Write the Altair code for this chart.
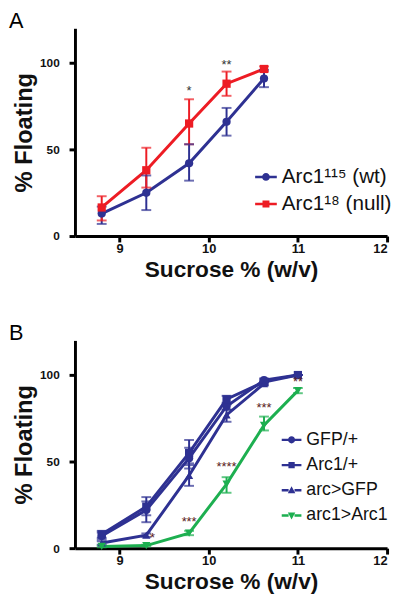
import altair as alt
import pandas as pd

# ---------------- data ----------------
X_A = [8.8, 9.3, 9.78, 10.2, 10.62]
WT = [13, 25, 42, 66, 91]
WT_LO = [7, 15, 32, 58, 86]
WT_HI = [17, 35, 53, 74, 96]
NULL = [16.5, 38, 65, 88, 96.5]
NULL_LO = [9, 28, 53, 81, 95]
NULL_HI = [23, 51, 79, 95, 98]

X_B = [8.8, 9.3, 9.78, 10.2, 10.62, 11.0]
GFP = [7, 22, 52, 82, 97, 100]
GFP_LO = [5, 15, 46, 80, 96, 100]
GFP_HI = [9, 27, 58, 84, 98, 100]
ARC1 = [8, 24, 55, 86, 96, 100]
ARC1_LO = [6, 19, 49, 83, 95, 100]
ARC1_HI = [10, 29.5, 62.5, 88, 97, 100]
X_B5 = [8.8, 9.3, 9.78, 10.2, 10.62]
ARCGFP = [3, 7.5, 42, 77, 95]
ARCGFP_LO = [2, 6.5, 36, 73, 94]
ARCGFP_HI = [4, 8.5, 48, 80, 96]
RESCUE = [1, 1.5, 8.7, 37, 71, 91]
RESCUE_LO = [0.5, 1, 7.5, 32, 68, 89.5]
RESCUE_HI = [1.5, 2, 10, 41, 76, 92.5]

ANN_A_X = [9.78, 10.2]
ANN_A_Y = [84, 99]
ANN_A_T = ["*", "**"]
ANN_B_X = [9.37, 9.78, 10.2, 10.62, 11.0]
ANN_B_Y = [6, 15, 47, 81, 96]
ANN_B_T = ["*", "***", "****", "***", "**"]

SER_A = ["Arc1¹¹⁵ (wt)", "Arc1¹⁸ (null)"]
COL_A = ["#2E3192", "#ED1C24"]
SHP_A = ["circle", "square"]
SER_B = ["GFP/+", "Arc1/+", "arc>GFP", "arc1>Arc1"]
COL_B = ["#2E3192", "#2E3192", "#2E3192", "#1DAF50"]
SHP_B = ["circle", "square", "triangle-up", "triangle-down"]

FONT = "Liberation Sans"

BAR = "M-1,-0.12H-0.3V0.12H-1Z M0.3,-0.12H1V0.12H0.3Z "
PATHS = {
    "circle": BAR + "M0.36,0A0.36,0.36 0 1,1 -0.36,0A0.36,0.36 0 1,1 0.36,0Z",
    "square": BAR + "M-0.32,-0.32H0.32V0.32H-0.32Z",
    "triangle-up": BAR + "M0,-0.4L0.38,0.3H-0.38Z",
    "triangle-down": BAR + "M0,0.4L-0.38,-0.3H0.38Z",
}


def long_df(xs_list, ys_list, lo_list, hi_list, names):
    rows = []
    for xs, ys, los, his, n in zip(xs_list, ys_list, lo_list, hi_list, names):
        for x, y, lo, hi in zip(xs, ys, los, his):
            rows.append({"x": x, "y": y, "lo": lo, "hi": hi, "series": n})
    return pd.DataFrame(rows)


def panel(df, ann, series, colors, shapes, label, ann_color, legx, legy, symsize, rowpad, legfont):
    xs = alt.Scale(domain=[8.5, 12], nice=False, zero=False)
    ys = alt.Scale(domain=[0, 120], nice=False)
    xenc = alt.X("x:Q", scale=xs, title="Sucrose % (w/v)",
                 axis=alt.Axis(values=[9, 10, 11, 12], format="d"))
    yenc = alt.Y("y:Q", scale=ys, title="% Floating",
                 axis=alt.Axis(values=[0, 50, 100], format="d"))
    cscale = alt.Scale(domain=series, range=colors)
    col = alt.Color("series:N", scale=cscale, legend=None)
    base = alt.Chart(df)

    lines = base.mark_line(strokeWidth=3).encode(x=xenc, y=yenc, color=col, detail="series:N")
    err = base.mark_rule(strokeWidth=2).encode(
        x=xenc, y=alt.Y("lo:Q", scale=ys), y2="hi:Q", color=col)
    cap_lo = base.mark_tick(orient="horizontal", size=10, thickness=2).encode(
        x=xenc, y=alt.Y("lo:Q", scale=ys), color=col)
    cap_hi = base.mark_tick(orient="horizontal", size=10, thickness=2).encode(
        x=xenc, y=alt.Y("hi:Q", scale=ys), color=col)
    pts = []
    for s, shp in zip(series, shapes):
        pts.append(
            base.transform_filter(alt.datum.series == s)
            .mark_point(filled=True, shape=shp, size=70, opacity=1)
            .encode(x=xenc, y=yenc, color=col)
        )
    leg = alt.Legend(orient="none", legendX=legx, legendY=legy, title=None,
                     labelFont=FONT, labelFontSize=legfont, labelColor="#111",
                     symbolSize=symsize, symbolStrokeWidth=0, symbolOpacity=1,
                     rowPadding=rowpad, labelOffset=5, padding=0)
    legend_layer = base.mark_point(filled=True, opacity=0).encode(
        x=xenc, y=yenc,
        color=alt.Color("series:N", scale=cscale, legend=leg),
        shape=alt.Shape("series:N", scale=alt.Scale(domain=series, range=[PATHS[s] for s in shapes]),
                        legend=leg),
    )
    txt = alt.Chart(ann).mark_text(font=FONT, fontSize=13, color=ann_color, baseline="middle").encode(
        x=alt.X("x:Q", scale=xs), y=alt.Y("y:Q", scale=ys), text="t:N")
    return alt.layer(lines, err, cap_lo, cap_hi, *pts, legend_layer, txt).resolve_legend(
        color="independent", shape="independent"
    ).properties(
        width=317, height=211,
        title=alt.TitleParams(label, anchor="start", frame="bounds", fontSize=22,
                              fontWeight="normal", font=FONT, dx=-4, offset=-5),
    )


df_a = long_df([X_A, X_A], [WT, NULL], [WT_LO, NULL_LO], [WT_HI, NULL_HI], SER_A)
df_b = long_df([X_B, X_B, X_B5, X_B], [GFP, ARC1, ARCGFP, RESCUE],
               [GFP_LO, ARC1_LO, ARCGFP_LO, RESCUE_LO], [GFP_HI, ARC1_HI, ARCGFP_HI, RESCUE_HI], SER_B)
ann_a = pd.DataFrame({"x": ANN_A_X, "y": ANN_A_Y, "t": ANN_A_T})
ann_b = pd.DataFrame({"x": ANN_B_X, "y": ANN_B_Y, "t": ANN_B_T})

pa = panel(df_a, ann_a, SER_A, COL_A, SHP_A, "A", "#333333", 183, 140, 484, 6.5, 21)
pb = panel(df_b, ann_b, SER_B, COL_B, SHP_B, "B", "#5a2020", 210, 91, 400, 6.6, 18)

chart = alt.vconcat(pa, pb, spacing=42).resolve_scale(
    color="independent", shape="independent"
).resolve_legend(color="independent", shape="independent").properties(
    padding={"left": 0, "top": -2, "right": 0, "bottom": 0}
).configure_view(stroke=None).configure_axis(
    grid=False, domainColor="black", domainWidth=3, tickColor="black", tickWidth=3,
    tickSize=6, labelFont=FONT, labelFontWeight="bold", labelColor="#111",
    titleFont=FONT, titleFontWeight="bold", titleColor="#111",
).configure_axisX(titleFontSize=23, titlePadding=3, labelPadding=1, labelFontSize=13).configure_axisY(
    titleFontSize=24, titlePadding=3, labelPadding=10, labelFontSize=12)

chart.save("out.html", embed_options={"renderer": "svg", "actions": False})
